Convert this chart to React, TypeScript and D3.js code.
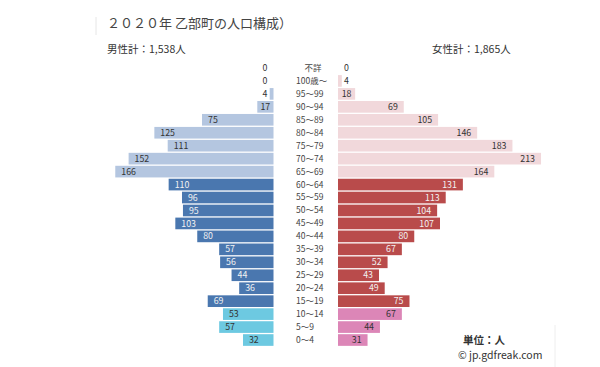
import React from 'react';
import * as d3 from 'd3';

const ages = [
  '不詳', '100歳～', '95～99', '90～94', '85～89', '80～84', '75～79', '70～74', '65～69',
  '60～64', '55～59', '50～54', '45～49', '40～44', '35～39', '30～34', '25～29', '20～24',
  '15～19', '10～14', '5～9', '0～4',
];
const male = [0, 0, 4, 17, 75, 125, 111, 152, 166, 110, 96, 95, 103, 80, 57, 56, 44, 36, 69, 53, 57, 32];
const female = [0, 4, 18, 69, 105, 146, 183, 213, 164, 131, 113, 104, 107, 80, 67, 52, 43, 49, 75, 67, 44, 31];

const W = 600;
const H = 367;
const FONT = '"Noto Sans CJK JP", "Noto Sans", sans-serif';

// 0: old (65+ and unknown), 1: working age, 2: children
const group = (i: number) => (i <= 8 ? 0 : i <= 18 ? 1 : 2);
const maleFill = ['#b4c6e0', '#4a77af', '#6dc9e1'];
const femaleFill = ['#f1d8db', '#b94b4b', '#dc86b7'];
const labelFill = ['#333', '#f2f2f2', '#333'];

const App = () => {
  const y = d3.scaleBand<string>().domain(ages).range([61.5, 346.5]).paddingInner(0.1).paddingOuter(0.05);
  const xm = d3.scaleLinear().domain([0, 220]).range([273.5, 273.5 - 209.7]);
  const xf = d3.scaleLinear().domain([0, 220]).range([338, 338 + 209.7]);
  const bw = y.bandwidth();
  const tw = (v: number) => String(v).length * 4.9;

  const maleLabel = (v: number, i: number) => {
    const left = xm(v);
    const barW = xm(0) - left;
    const cy = y(ages[i])! + bw / 2;
    if (barW < tw(v) + 4) {
      return <text key={i} x={xm(0) - 6} y={cy} textAnchor="end" dy="0.35em" fill="#333">{v}</text>;
    }
    const off = Math.min(6, (barW - tw(v)) / 2);
    return <text key={i} x={left + off} y={cy} dy="0.35em" fill={labelFill[group(i)]}>{v}</text>;
  };

  const femaleLabel = (v: number, i: number) => {
    const right = xf(v);
    const barW = right - xf(0);
    const cy = y(ages[i])! + bw / 2;
    if (barW < tw(v) + 4) {
      return <text key={i} x={xf(0) + 6} y={cy} dy="0.35em" fill="#333">{v}</text>;
    }
    const off = Math.min(6, (barW - tw(v)) / 2);
    return <text key={i} x={right - off} y={cy} textAnchor="end" dy="0.35em" fill={labelFill[group(i)]}>{v}</text>;
  };

  return (
    <svg width={W} height={H} style={{ position: 'absolute', left: 0, top: 0, background: '#fff' }} fontFamily={FONT}>
      <line x1={96} x2={96} y1={17} y2={35} stroke="#e6e6e6" />
      <line x1={555} x2={555} y1={325} y2={367} stroke="#eeeeee" />
      <text x={107} y={27.5} fontSize={13} fill="#444" style={{ whiteSpace: 'pre' }}>
        {'２０２０年 乙部町の人口構成）'}
      </text>
      <text x={107} y={53} fontSize={10.5} fill="#333">男性計：1,538人</text>
      <text x={432} y={53} fontSize={10.5} fill="#333">女性計：1,865人</text>

      {male.map((v, i) => (
        <rect key={i} x={xm(v)} y={y(ages[i])} width={xm(0) - xm(v)} height={bw} fill={maleFill[group(i)]} />
      ))}
      {female.map((v, i) => (
        <rect key={i} x={xf(0)} y={y(ages[i])} width={xf(v) - xf(0)} height={bw} fill={femaleFill[group(i)]} />
      ))}

      <g fontSize={8.8}>
        {male.map(maleLabel)}
        {female.map(femaleLabel)}
      </g>

      <g fontSize={8.5} fill="#444" style={{ whiteSpace: 'pre' }}>
        {ages.map((a, i) => (
          <text key={a} x={296} y={y(a)! + bw / 2} dy="0.35em">
            {i === 0 ? '　' + a : i === 1 ? ' ' + a : a}
          </text>
        ))}
      </g>

      <text x={463} y={344} fontSize={10.5} fill="#333" fontWeight="bold">単位：人</text>
      <text x={458} y={359} fontSize={10.5} fill="#333">© jp.gdfreak.com</text>
    </svg>
  );
};

export default App;
